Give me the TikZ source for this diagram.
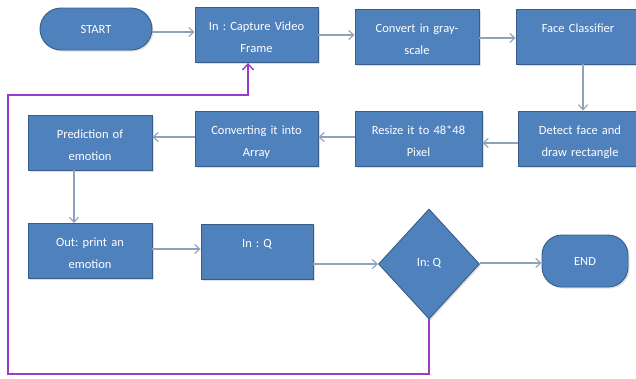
\documentclass[tikz,border=0pt]{standalone}
\usepackage{fontspec}
\setmainfont{Carlito}
\frenchspacing
\usetikzlibrary{arrows.meta,shapes.geometric,shadows}
\definecolor{boxblue}{HTML}{4F81BD}
\definecolor{boxedge}{HTML}{385D8A}
\definecolor{linegray}{HTML}{8DA3BC}
\definecolor{loopviolet}{HTML}{9B3BCB}
\tikzset{
  box/.style={draw=boxedge, line width=0.9pt, fill=boxblue, text=white,
    font=\fontsize{12.5}{22}\selectfont, align=center, inner xsep=2pt, inner ysep=0pt,
    text height=23pt, text depth=32pt,
    drop shadow={shadow xshift=1.5pt, shadow yshift=-1.5pt, opacity=0.25}},
  term/.style={draw=boxedge, line width=0.9pt, fill=boxblue, text=white,
    font=\fontsize{12.5}{14}\selectfont, inner sep=0pt,
    drop shadow={shadow xshift=1.5pt, shadow yshift=-1.5pt, opacity=0.25}},
  dec/.style={draw=boxedge, line width=0.9pt, fill=boxblue, text=white,
    font=\fontsize{12.5}{14}\selectfont, diamond, inner sep=0pt,
    minimum width=101pt, minimum height=110pt,
    drop shadow={shadow xshift=1.5pt, shadow yshift=-1.5pt, opacity=0.25}},
  conn/.style={draw=linegray, line width=1.1pt, -{Straight Barb[length=5pt,width=9pt]}},
  loopline/.style={draw=loopviolet, line width=1.4pt},
  looparrow/.style={loopline, -{Straight Barb[length=6pt,width=11pt]}},
}
\begin{document}
\begin{tikzpicture}[x=1pt,y=-1pt]
\useasboundingbox (0,0) rectangle (636,378);
\fill[white] (0,0) rectangle (636,378);
% terminals
\node[term, minimum width=112pt, minimum height=42pt, rounded corners=21pt] (start) at (96,29) {START};
\node[term, minimum width=86pt, minimum height=52pt, rounded corners=20pt] (end) at (585,261) {END};
% row 1
\node[box, text width=119pt] (cap) at (256.5,35) {In : Capture Video\\Frame};
\node[box, text width=120pt] (gray) at (417,36.5) {Convert in gray-\\scale};
\node[box, text width=120pt] (face) at (578,36.5) {Face Classifier};
% row 2
\node[box, text width=120pt] (detect) at (580,138.5) {Detect face and\\draw rectangle};
\node[box, text width=123pt] (resize) at (418.5,139) {Resize it to 48*48\\Pixel};
\node[box, text width=119pt] (conv) at (256.5,139) {Converting it into\\Array};
\node[box, text width=120pt] (pred) at (90,142.5) {Prediction of\\emotion};
% row 3
\node[box, text width=120pt] (out) at (90,251) {Out: print an\\emotion};
\node[box, text width=108pt] (inq) at (257,252) {In : Q};
\node[dec] (dia) at (429,264) {\raisebox{3pt}{In: Q}};
% connectors
\draw[conn] ([yshift=-3pt]start.east) -- ([yshift=-3pt]start.east -| cap.west);
\draw[conn] (cap.east) -- (cap.east -| gray.west);
\draw[conn] ([yshift=-1.5pt]gray.east) -- ([yshift=-1.5pt]gray.east -| face.west);
\draw[conn] ([xshift=5pt]face.south) -- ([xshift=5pt]face.south |- detect.north);
\draw[conn] ([yshift=-4.5pt]detect.west) -- ([yshift=-4.5pt]detect.west -| resize.east);
\draw[conn] ([yshift=2pt]resize.west) -- ([yshift=2pt]resize.west -| conv.east);
\draw[conn] ([yshift=2pt]conv.west) -- ([yshift=2pt]conv.west -| pred.east);
\draw[conn] ([xshift=-16pt]pred.south) -- ([xshift=-16pt]pred.south |- out.north);
\draw[conn] ([yshift=2pt]out.east) -- ([yshift=2pt]out.east -| inq.west);
\draw[conn] ([yshift=-12pt]inq.east) -- ([yshift=-12pt]inq.east -| dia.west);
\draw[conn] ([yshift=1pt]dia.east) -- ([yshift=1pt]dia.east -| end.west);
% feedback loop
\coordinate (lb) at (8,374);
\coordinate (lt) at (8,95);
\coordinate (up) at (248,95);
\draw[looparrow] (dia.south) |- (lb) -- (lt) -- (up) -- (up |- cap.south);
\end{tikzpicture}
\end{document}
